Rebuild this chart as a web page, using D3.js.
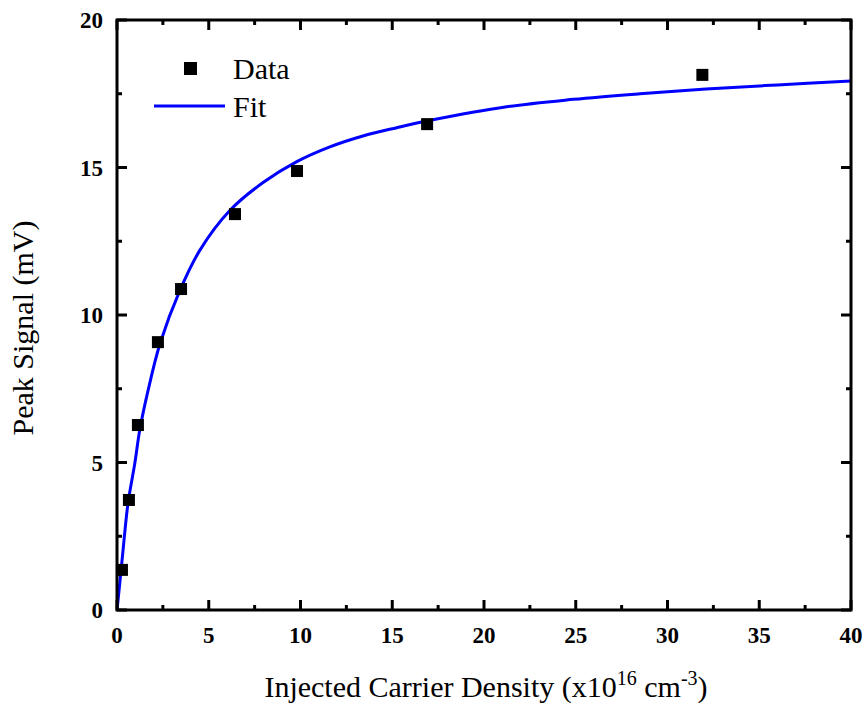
<!DOCTYPE html>
<html>
<head>
<meta charset="utf-8">
<script src="https://cdn.jsdelivr.net/npm/d3@7"></script>
<style>
  html, body { margin: 0; padding: 0; background: #fff; }
  svg { display: block; }
  text { font-family: "Liberation Serif", "Times New Roman", Times, serif; fill: #000; }
</style>
</head>
<body>
<svg id="chart" width="867" height="706"></svg>
<script>
// Measured peak signal vs injected carrier density
const densityData = [0.27, 0.65, 1.14, 2.23, 3.49, 6.43, 9.81, 16.9, 31.9];
const signalData  = [1.36, 3.73, 6.27, 9.08, 10.88, 13.42, 14.88, 16.47, 18.14];

// Fitted curve, sampled along the trace
const fitDensity = [0, 0.15, 0.33, 0.6, 0.97, 1.24, 1.7, 2.35, 3.44, 4.52, 6.16, 7.98, 9.8, 11.6, 13.4, 15.25, 17.07, 21.24, 24.87, 28.5, 32.1, 36, 40];
const fitSignal  = [0, 0.9, 2.03, 3.62, 4.97, 6.1, 7.46, 9.04, 10.85, 12.2, 13.55, 14.5, 15.2, 15.7, 16.07, 16.35, 16.6, 17.06, 17.31, 17.5, 17.66, 17.8, 17.93];

const xTicks = [0, 5, 10, 15, 20, 25, 30, 35, 40];
const yTicks = [0, 5, 10, 15, 20];
const xMinor = [2.5, 7.5, 12.5, 17.5, 22.5, 27.5, 32.5, 37.5];
const yMinor = [2.5, 7.5, 12.5, 17.5];

const svg = d3.select("#chart");
const pL = 117, pR = 851, pT = 20, pB = 610;

const x = d3.scaleLinear().domain([0, 40]).range([pL, pR]);
const y = d3.scaleLinear().domain([0, 20]).range([pB, pT]);

const majorLen = 10, minorLen = 5, axisW = 3;

// Clip the fit line to the plot frame
svg.append("clipPath").attr("id", "plotClip")
  .append("rect").attr("x", pL).attr("y", pT)
  .attr("width", pR - pL).attr("height", pB - pT);

// Fit curve
const line = d3.line()
  .x((d, i) => x(fitDensity[i]))
  .y((d, i) => y(fitSignal[i]))
  .curve(d3.curveCatmullRom.alpha(0.5));

svg.append("path")
  .datum(fitDensity)
  .attr("d", line)
  .attr("fill", "none")
  .attr("stroke", "#0000ff")
  .attr("stroke-width", 3)
  .attr("clip-path", "url(#plotClip)");

// Data squares
const sq = 12;
svg.append("g").selectAll("rect")
  .data(densityData)
  .join("rect")
  .attr("x", (d) => x(d) - sq / 2)
  .attr("y", (d, i) => y(signalData[i]) - sq / 2)
  .attr("width", sq)
  .attr("height", sq)
  .attr("fill", "#000");

// Inward ticks on all four sides
const ticks = svg.append("g").attr("stroke", "#000").attr("stroke-width", axisW);
function vTicks(vals, len) {
  vals.forEach(v => {
    ticks.append("line").attr("x1", x(v)).attr("x2", x(v)).attr("y1", pB).attr("y2", pB - len);
    ticks.append("line").attr("x1", x(v)).attr("x2", x(v)).attr("y1", pT).attr("y2", pT + len);
  });
}
function hTicks(vals, len) {
  vals.forEach(v => {
    ticks.append("line").attr("y1", y(v)).attr("y2", y(v)).attr("x1", pL).attr("x2", pL + len);
    ticks.append("line").attr("y1", y(v)).attr("y2", y(v)).attr("x1", pR).attr("x2", pR - len);
  });
}
vTicks(xTicks, majorLen); vTicks(xMinor, minorLen);
hTicks(yTicks, majorLen); hTicks(yMinor, minorLen);

// Frame
svg.append("rect")
  .attr("x", pL).attr("y", pT)
  .attr("width", pR - pL).attr("height", pB - pT)
  .attr("fill", "none").attr("stroke", "#000").attr("stroke-width", axisW);

// Tick labels
svg.append("g").selectAll("text")
  .data(xTicks).join("text")
  .attr("x", d => x(d)).attr("y", 643)
  .attr("text-anchor", "middle")
  .attr("font-weight", "bold").attr("font-size", 23)
  .text(d => d);

svg.append("g").selectAll("text")
  .data(yTicks).join("text")
  .attr("x", 103).attr("y", d => y(d) + 8)
  .attr("text-anchor", "end")
  .attr("font-weight", "bold").attr("font-size", 23)
  .text(d => d);

// Axis titles
const xt = svg.append("text")
  .attr("x", 486).attr("y", 697)
  .attr("text-anchor", "middle")
  .attr("font-size", 30);
xt.append("tspan").text("Injected Carrier Density (x10");
xt.append("tspan").attr("dy", -12).attr("font-size", 20).text("16");
xt.append("tspan").attr("dy", 12).text(" cm");
xt.append("tspan").attr("dy", -12).attr("font-size", 20).text("-3");
xt.append("tspan").attr("dy", 12).text(")");

svg.append("text")
  .attr("transform", "translate(33,328) rotate(-90)")
  .attr("text-anchor", "middle")
  .attr("font-size", 30)
  .text("Peak Signal (mV)");

// Legend
const lg = svg.append("g");
lg.append("rect").attr("x", 184).attr("y", 62).attr("width", 13).attr("height", 13).attr("fill", "#000");
lg.append("text").attr("x", 233).attr("y", 79).attr("font-size", 30).text("Data");
lg.append("line").attr("x1", 154).attr("x2", 225).attr("y1", 106).attr("y2", 106)
  .attr("stroke", "#0000ff").attr("stroke-width", 3);
lg.append("text").attr("x", 233).attr("y", 117).attr("font-size", 30).text("Fit");
</script>
</body>
</html>
